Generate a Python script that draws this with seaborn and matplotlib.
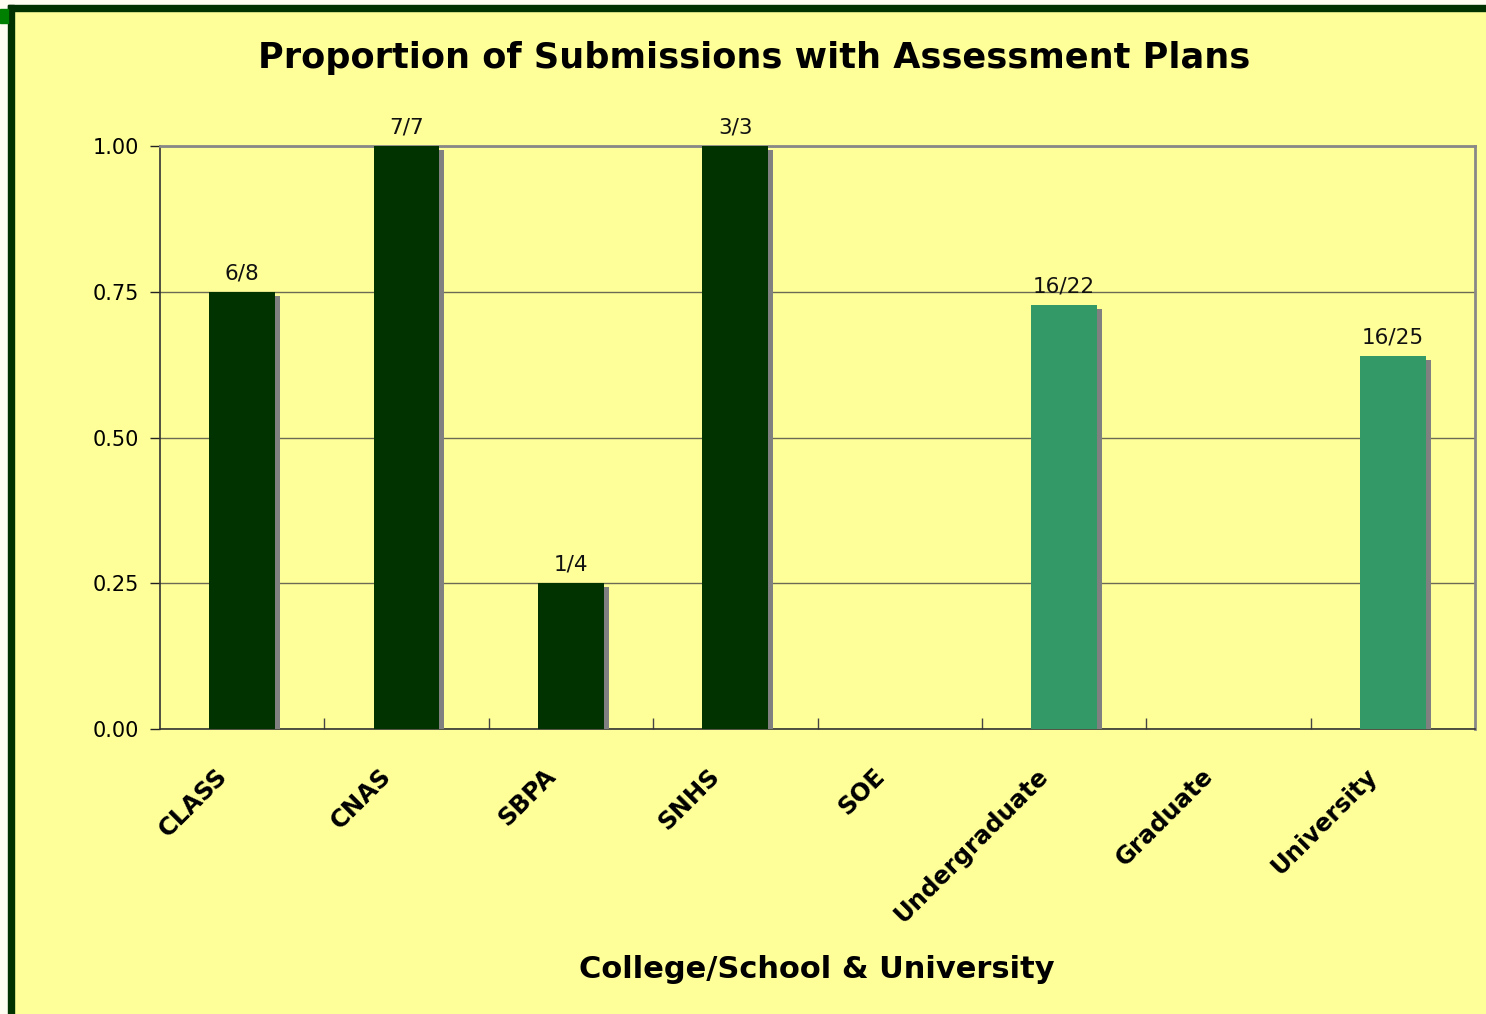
import numpy as np
import pandas as pd
import matplotlib
matplotlib.use("Agg")
import matplotlib.pyplot as plt
import matplotlib.patheffects as pe
import matplotlib.transforms as mtransforms
from matplotlib.patches import Rectangle
import seaborn as sns

# Chart data
categories = ["CLASS", "CNAS", "SBPA", "SNHS", "SOE", "Undergraduate", "Graduate", "University"]
numerators = [6, 7, 1, 3, 0, 16, 0, 16]
denominators = [8, 7, 4, 3, None, 22, None, 25]
groups = ["college"] * 5 + ["total"] * 3

proportions = [n / d if d else 0.0 for n, d in zip(numerators, denominators)]
bar_labels = [f"{n}/{d}" if d else "" for n, d in zip(numerators, denominators)]

df = pd.DataFrame({"category": categories, "proportion": proportions, "group": groups})

BG = "#FFFF99"
DARK = "#003300"
TEAL = "#339966"

sns.set_theme(style="white")
plt.rcParams["font.family"] = ["DejaVu Sans"]
plt.rcParams["text.color"] = "black"
plt.rcParams["xtick.color"] = "black"
plt.rcParams["ytick.color"] = "black"
plt.rcParams["axes.labelcolor"] = "black"

fig = plt.figure(figsize=(14.86, 10.14), dpi=100, facecolor=BG)
ax = fig.add_axes([160 / 1486, 1 - 729 / 1014, (1475 - 160) / 1486, (729 - 146) / 1014])
ax.set_facecolor(BG)

colors = [DARK if g == "college" else TEAL for g in groups]
sns.barplot(data=df, x="category", y="proportion", hue="category",
            palette=colors, width=0.4, legend=False, ax=ax,
            saturation=1, edgecolor="none", zorder=3)

shadow = [pe.SimplePatchShadow(offset=(3.6, -3), shadow_rgbFace="#808080", alpha=1.0), pe.Normal()]
for bar in ax.patches:
    if bar.get_height() > 0:
        bar.set_path_effects(shadow)

for i, (val, lab) in enumerate(zip(proportions, bar_labels)):
    if lab:
        ax.annotate(lab, (i, val), xytext=(0, 6), textcoords="offset points",
                    ha="center", va="bottom", fontsize=15.5, color="#111111")

ax.set_xlim(-0.5, len(categories) - 0.5)
ax.set_ylim(0, 1.0)
ax.set_yticks([0, 0.25, 0.5, 0.75, 1.0])
ax.set_yticklabels([f"{v:.2f}" for v in [0, 0.25, 0.5, 0.75, 1.0]], fontsize=15)
ax.yaxis.grid(True, color="#6b6b55", linewidth=1.0, zorder=0)
ax.set_axisbelow(True)

ax.set_xticks(range(len(categories)))
ax.set_xticklabels(categories, rotation=45, ha="right", va="center", rotation_mode="anchor",
                   fontsize=17.5, fontweight="bold")
ax.tick_params(axis="x", length=0, pad=31)
# shift rotated labels slightly left, as in the original
shift = mtransforms.ScaledTranslation(-19 / 100, 0, fig.dpi_scale_trans)
for lbl in ax.get_xticklabels():
    lbl.set_transform(lbl.get_transform() + shift)
ax.tick_params(axis="y", left=True, length=7, width=1, color="#222222", pad=8)
# category separator ticks on the x axis
ax.set_xticks(np.arange(0.5, len(categories) - 0.5, 1), minor=True)
ax.tick_params(axis="x", which="minor", bottom=True, direction="in", length=8, width=1, color="#444444")

for side in ["top", "right"]:
    ax.spines[side].set_color("#888888")
    ax.spines[side].set_linewidth(2)
for side in ["left", "bottom"]:
    ax.spines[side].set_color("#333333")
    ax.spines[side].set_linewidth(1.2)

ax.set_ylabel("")
ax.set_xlabel("College/School & University", fontsize=22, fontweight="bold")
ax.xaxis.set_label_coords((817 - 160) / (1475 - 160), -(970 - 729) / (729 - 146))
ax.xaxis.label.set_va("center")

fig.text(754 / 1486, 1 - 58 / 1014, "Proportion of Submissions with Assessment Plans",
         ha="center", va="center", fontsize=25.3, fontweight="bold")

# slide frame: off-white margin, dark green border lines, small green marker
W, H = 1486, 1014
fig.add_artist(Rectangle((0, 0), 8 / W, 1, transform=fig.transFigure, color="#FFFFF2", zorder=5))
fig.add_artist(Rectangle((0, 1 - 5 / H), 1, 5 / H, transform=fig.transFigure, color="#FFFFF2", zorder=5))
fig.add_artist(Rectangle((8 / W, 0), 6 / W, 1 - 5 / H, transform=fig.transFigure, color=DARK, zorder=6))
fig.add_artist(Rectangle((8 / W, 1 - 11 / H), 1, 6 / H, transform=fig.transFigure, color=DARK, zorder=6))
fig.add_artist(Rectangle((0, 1 - 23 / H), 8 / W, 14 / H, transform=fig.transFigure, color="#008000", zorder=7))

fig.savefig("out.png", dpi=100, facecolor=BG)
